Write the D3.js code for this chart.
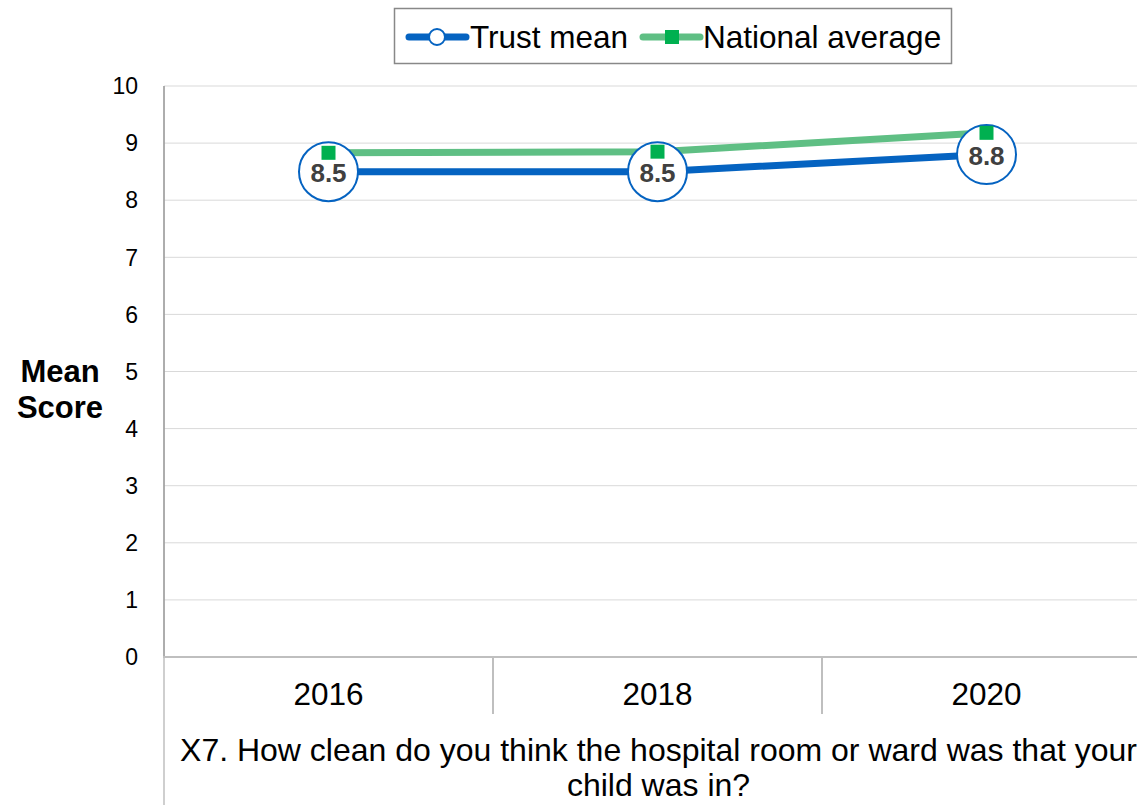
<!DOCTYPE html>
<html>
<head>
<meta charset="utf-8">
<script src="https://cdn.jsdelivr.net/npm/d3@7"></script>
<style>
  html, body { margin: 0; padding: 0; background: #fff; }
  svg { display: block; font-family: "Liberation Sans", Arial, sans-serif; }
</style>
</head>
<body>
<svg id="chart" width="1137" height="805"></svg>
<script>
// Survey years and scores
const years = ["2016", "2018", "2020"];
const trustMean = [8.5, 8.5, 8.8];
const nationalAverage = [8.83, 8.85, 9.18];
const yTicks = [0, 1, 2, 3, 4, 5, 6, 7, 8, 9, 10];
const questionLines = [
  "X7. How clean do you think the hospital room or ward was that your",
  "child was in?"
];
const seriesNames = ["Trust mean", "National average"];

const svg = d3.select("#chart");
const plotLeft = 164, plotRight = 1151, plotTop = 86, plotBottom = 657;

const x = d3.scaleBand().domain(years).range([plotLeft, plotRight]).padding(0);
const y = d3.scaleLinear().domain([0, 10]).range([plotBottom, plotTop]);
const cx = d => x(d) + x.bandwidth() / 2;

// Horizontal gridlines
svg.append("g").selectAll("line").data(yTicks.filter(t => t > 0)).join("line")
  .attr("x1", plotLeft).attr("x2", plotRight)
  .attr("y1", d => y(d)).attr("y2", d => y(d))
  .attr("stroke", "#d9d9d9").attr("stroke-width", 1);

// Y axis tick labels
svg.append("g").selectAll("text").data(yTicks).join("text")
  .attr("x", 138).attr("y", d => y(d))
  .attr("dy", "0.36em").attr("text-anchor", "end")
  .attr("font-size", 23).attr("fill", "#000")
  .text(d => d);

// Left axis line, running down through the category area
svg.append("line").attr("x1", plotLeft).attr("x2", plotLeft)
  .attr("y1", plotTop).attr("y2", 805)
  .attr("stroke", "#bfbfbf").attr("stroke-width", 1.5);
svg.append("line").attr("x1", plotLeft).attr("x2", plotLeft)
  .attr("y1", plotTop).attr("y2", plotBottom)
  .attr("stroke", "#8c8c8c").attr("stroke-width", 1);

// X axis baseline and category dividers
svg.append("line").attr("x1", plotLeft - 1).attr("x2", plotRight)
  .attr("y1", plotBottom).attr("y2", plotBottom)
  .attr("stroke", "#bfbfbf").attr("stroke-width", 2);
svg.append("g").selectAll("line").data(years.slice(1)).join("line")
  .attr("x1", d => x(d)).attr("x2", d => x(d))
  .attr("y1", plotBottom).attr("y2", 714)
  .attr("stroke", "#bfbfbf").attr("stroke-width", 2);

// Year labels
svg.append("g").selectAll("text").data(years).join("text")
  .attr("x", d => cx(d)).attr("y", 705)
  .attr("text-anchor", "middle").attr("font-size", 31.5).attr("fill", "#000")
  .text(d => d);

// Question text
svg.append("g").selectAll("text").data(questionLines).join("text")
  .attr("x", (plotLeft + plotRight) / 2 + 1).attr("y", (d, i) => 761 + i * 35)
  .attr("text-anchor", "middle").attr("font-size", 32).attr("fill", "#000")
  .text(d => d);

// Y axis title
svg.append("text").attr("x", 60).attr("y", 382)
  .attr("text-anchor", "middle").attr("font-size", 31)
  .attr("font-weight", "bold").attr("fill", "#000")
  .selectAll("tspan").data(["Mean", "Score"]).join("tspan")
  .attr("x", 60).attr("dy", (d, i) => i === 0 ? 0 : 36).text(d => d);

const blue = "#0563c1", green = "#5fbf84", greenMarker = "#00b050";
const line = d3.line().x(d => cx(d.year)).y(d => y(d.value));
const trustPts = years.map((yr, i) => ({ year: yr, value: trustMean[i] }));
const natPts = years.map((yr, i) => ({ year: yr, value: nationalAverage[i] }));

// National average line
svg.append("path").datum(natPts).attr("d", line)
  .attr("fill", "none").attr("stroke", green).attr("stroke-width", 7);

// Trust mean line
svg.append("path").datum(trustPts).attr("d", line)
  .attr("fill", "none").attr("stroke", blue).attr("stroke-width", 7);

// Trust mean circles
svg.append("g").selectAll("circle").data(trustPts).join("circle")
  .attr("cx", d => cx(d.year)).attr("cy", d => y(d.value)).attr("r", 29.5)
  .attr("fill", "#fff").attr("stroke", blue).attr("stroke-width", 2);

// National average markers
svg.append("g").selectAll("rect").data(natPts).join("rect")
  .attr("x", d => cx(d.year) - 7).attr("y", d => y(d.value) - 7)
  .attr("width", 14).attr("height", 14).attr("fill", greenMarker);

// Value labels inside the circles
svg.append("g").selectAll("text").data(trustPts).join("text")
  .attr("x", d => cx(d.year)).attr("y", d => y(d.value) + 1)
  .attr("dy", "0.36em").attr("text-anchor", "middle")
  .attr("font-size", 26).attr("font-weight", "bold").attr("fill", "#404040")
  .text(d => d3.format(".1f")(d.value));

// Legend
const lg = svg.append("g");
lg.append("rect").attr("x", 394.5).attr("y", 8.5).attr("width", 557).attr("height", 55)
  .attr("fill", "#fff").attr("stroke", "#888").attr("stroke-width", 1.5);
lg.append("line").attr("x1", 409).attr("x2", 466).attr("y1", 37).attr("y2", 37)
  .attr("stroke", blue).attr("stroke-width", 7).attr("stroke-linecap", "round");
lg.append("circle").attr("cx", 437).attr("cy", 37).attr("r", 8)
  .attr("fill", "#fff").attr("stroke", blue).attr("stroke-width", 2);
lg.append("text").attr("x", 470).attr("y", 37).attr("dy", "0.36em")
  .attr("font-size", 31.5).text(seriesNames[0]);
lg.append("line").attr("x1", 643).attr("x2", 700).attr("y1", 37).attr("y2", 37)
  .attr("stroke", green).attr("stroke-width", 7).attr("stroke-linecap", "round");
lg.append("rect").attr("x", 665).attr("y", 30).attr("width", 14).attr("height", 14)
  .attr("fill", greenMarker);
lg.append("text").attr("x", 703).attr("y", 37).attr("dy", "0.36em")
  .attr("font-size", 31.5).text(seriesNames[1]);
</script>
</body>
</html>
